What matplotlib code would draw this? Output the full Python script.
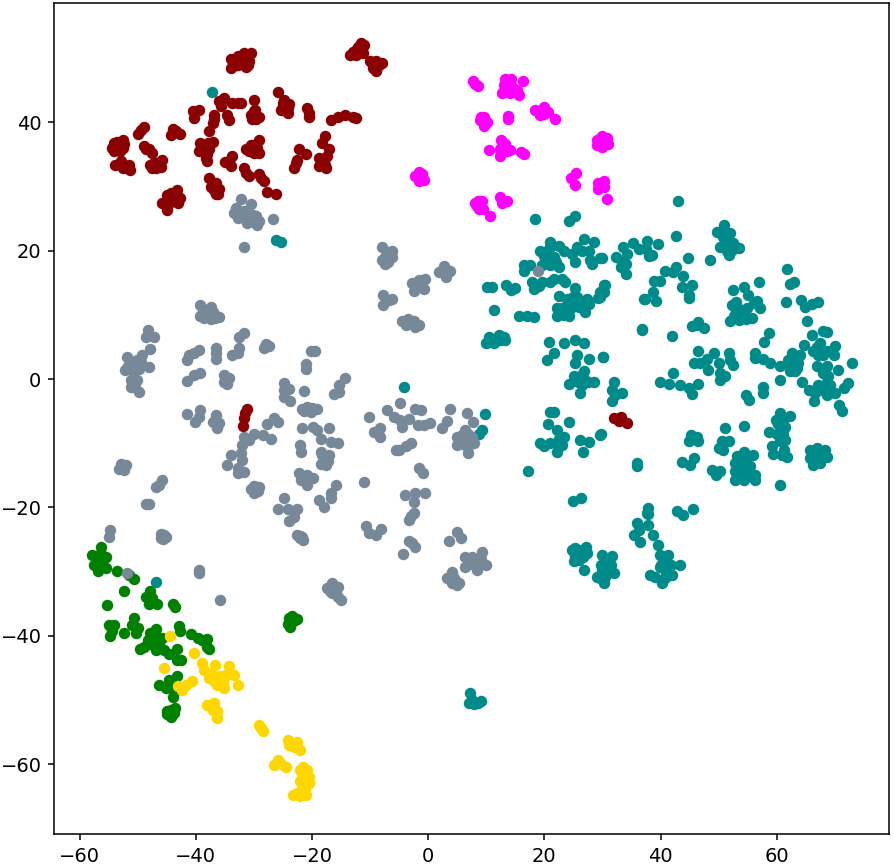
import matplotlib
matplotlib.use('Agg')
import matplotlib.pyplot as plt

# t-SNE embedding, values, one list per class
darkred_pts = [
    (-34,48.5),(-34,49.8),(-32.8,50.3),(-31.7,50.8),(-30.5,50.8),(-31.4,48.7),(-32.3,49.5),(-30.8,49.5),
    (-33,49),(-31.5,49.8),(-31,48.9),(-32.8,48.9),
    (-13,51),(-12,51.7),(-11.5,52.4),(-11,52),(-13.5,50.5),(-12.5,50.5),(-11.2,50.8),(-12.5,51.2),(-11.8,50.9),
    (-10,49.5),(-9,49.5),(-8.5,49),(-9.5,48.5),(-9,48),(-8,49.3),(-9.5,49),
    (-25.8,44.8),(-24.8,43.5),(-24,42.8),(-24.8,42),(-25.4,41.9),(-24.2,42.2),(-25,43),(-24.2,41.5),(-25,42.5),
    (-20.8,42.2),(-20.5,40.9),(-20.6,41.5),
    (-16.8,40.4),(-15.6,40.8),(-14.4,41.2),(-13,40.8),(-12.4,40.7),
    (-30,43.5),(-30,41.7),(-29.1,40.9),(-30.5,41.2),(-29.7,40.6),(-29.8,42),(-30.3,40.6),
    (-32.8,43),(-33.7,43),(-32.2,43),
    (-35.1,43.8),(-36,43.3),(-35.7,42.5),(-34.6,41.2),(-34.3,40.4),(-36.9,41.2),(-37.1,39.9),(-37.7,38.6),(-36.9,40.6),
    (-39.4,42),(-40.4,41.7),(-40.3,40.7),
    (-48.9,39.3),(-49.9,38.2),(-49.4,38.8),
    (-44,39),(-44.2,38.1),(-42.7,38.2),(-43.4,38.6),
    (-52.6,37.3),(-54.1,36.8),(-54.4,36),(-53.5,35.8),(-52.6,36),(-54.1,36.3),(-53.2,36.5),(-53.5,37),(-53,35.5),(-54,35.5),(-52.3,36.6),
    (-48.9,36.3),(-48,35.8),(-47.5,35.2),(-48.6,35.8),
    (-45.8,34.2),(-46.6,33.7),(-47.5,32.9),(-47.8,33.4),(-46,33),(-46.8,32.9),(-47.2,33.7),
    (-52.9,33.9),(-53.9,33.3),(-52.6,32.9),(-51.5,33.4),(-51.3,32.5),
    (-39.2,36.8),(-37.1,36.9),(-38,36.3),(-39.4,35.5),(-38.3,34.4),(-37.7,35.8),(-38.6,35.5),(-38.8,36.2),(-38,35),(-37.9,36.8),(-38,33.9),
    (-33.7,34.7),(-34.9,33.8),(-34,33.2),(-34.3,33.9),
    (-29.1,37.3),(-30.5,36.5),(-31.4,35.8),(-30,35.8),(-29.1,35.2),(-30,35.2),(-30,36.5),(-29.5,36),(-30.8,35.5),
    (-22.2,35.8),(-21.1,35),(-22.5,34.2),(-23.1,32.9),(-22.8,33.7),
    (-17.8,37.8),(-18.2,36.8),(-17.1,35.8),(-18.8,34.5),(-17.4,34.7),(-17.6,32.9),(-18.8,33.2),(-18.2,33.9),(-18,34),(-17.8,33.4),
    (-31.7,32.9),(-30.8,31.6),(-31.4,32.1),
    (-29.1,32),(-28.3,30.8),(-28.7,31.3),
    (-27.7,29.1),(-26.2,28.9),
    (-37.7,31.3),(-37.4,30),(-36,29.6),(-36.6,28.9),(-36.9,29.5),(-36.5,30.5),(-37,29.7),(-36.2,28.9),
    (-43.2,29.5),(-42.7,28.2),(-44.9,28.7),(-45.8,27.4),(-44.9,26.3),(-43.7,27.7),(-44.6,27.4),(-44,28),(-43.5,28.5),(-44.3,29),(-43,27.4),(-45,27),
    (-31.2,-4.6),(-31.7,-6.1),(-31.8,-7.3),(-31.5,-5.3),
    (31.9,-6),(33.1,-5.9),(32.8,-6.6),(34.2,-6.8),
]
magenta_pts = [
    (7.7,46.4),(8.6,45.6),(8.1,46),
    (13.3,46.8),(14.3,46.8),(16.3,46.5),(12.7,44.5),(13.6,45.2),(15.3,45),(15.6,44.2),(14.1,44.5),(13,45.8),(13,44.9),(14.5,45.5),(14,46),
    (13.7,41),(13.7,40.6),
    (18.3,42),(19.3,41.1),(19.9,42.4),(20.7,41.6),(21.9,40.6),(19.6,41.9),(19,41.8),(20,41.3),
    (8.9,40.3),(9.6,40.8),(10.1,40),(9.6,39.5),(9.3,40.3),(9,40.9),
    (29.9,37.8),(30.8,37.6),(29,37.3),(29,36.4),(29.9,36.1),(30.9,36.6),(29.9,37),(30,36.7),(30.4,37.2),(29.5,36.6),
    (10.5,35.7),(12.5,37.2),(13.3,36.7),(12.4,34.8),(14.1,35.7),(12.4,35.9),(15.9,35.4),(16.4,35.1),(13.6,35.6),
    (-1.6,32.2),(-2.2,31.6),(-0.8,31),(-1.5,30.8),(-1,32),(-1.8,31.4),(-1.3,31.5),
    (25.4,32.1),(24.5,31.4),(25.2,30.2),
    (29.3,30.5),(30.3,30.8),(29.3,29.6),(30.2,29.9),(29.8,30.2),
    (30.8,28),
    (8,27.4),(9.3,27.8),(8.7,26.5),(9.5,26.5),(10.7,25.4),(8.4,27),(8.5,27.8),(9,27),
    (12.4,28.4),(13.6,27.8),(12.7,27.4),
]
teal_pts = [
    (-37.2,44.8),(-26.2,21.6),(-25.4,21.4),(-46.9,-31.7),(-4.2,-1.2),(9.7,-5.5),(9.3,-7.9),(8.7,-8.5),
    (18.3,24.9),(25.3,25.4),(24.3,24.6),
    (20.9,21.3),(19.3,19.9),(22.5,20.8),(23.3,20),(20.2,18.8),(21.6,19),(22.5,17.5),(21,17.7),(19.6,17.7),(20.5,20),
    (20.8,18.8),(21.5,18),(21,20.5),(20,19.2),(22,18.2),
    (26.8,21.9),(28.5,21.3),(25.6,20.6),(27.6,20),(26.5,20),(24.8,19.5),(25.3,18.2),(27.9,18.5),(28.2,17.9),(29.6,18.8),
    (16.4,17.7),(17.6,17.7),(16.5,16.9),
    (17.9,15.1),(18.2,14),(19.6,15.1),(21,15.1),(23,15.6),(21.6,15.6),(23.6,15.1),(19,14.5),
    (10.1,14.3),(11,14.3),(13.4,14.6),(14.3,13.8),(15,14.2),(11.3,10.8),
    (15.7,9.8),(17,9.8),(18.2,9.6),
    (25.2,14.2),(30.5,14.7),(29.6,13.6),(29.3,12.7),
    (22.5,13),(23.9,12.5),(25.6,12.8),(27.3,12.5),(27.6,11.7),(25.9,11.2),(22.2,11.1),(23.9,11),(22.2,9.9),(24.2,9.9),(26.9,10.4),(25,11.9),
    (24.5,11.8),(25,12.8),(26.3,11.7),(24.4,10.9),(23,11),(23.3,10),
    (36.8,7.8),(37.3,12.4),
    (33.5,20.6),(35.3,21.2),(37.7,21.5),(34.2,19.5),(36.2,20.3),(37.4,20.3),(32.4,19),(33.4,18.2),(34,18),(33.1,17.4),(34,16.4),
    (38,19.2),(39.5,21),(38.5,19.3),(29.9,18.8),
    (43,27.8),(42.7,22.3),
    (50.9,24),(49.7,22.9),(52,22.7),(50.8,22.2),(50.3,20.6),(51.7,19.3),(53.4,20.4),(52.3,20.1),(51.4,21.1),
    (50.8,23),(51,22),(51.5,20.5),(51.5,19.9),(52.5,21.2),
    (44.7,18.9),(48.5,18.6),
    (40.8,16.9),(42.7,17.5),(42.2,16.7),
    (43.9,16),(45.4,14.7),(43.7,14.4),(44.9,12.7),(44.9,13.1),
    (38.8,15.2),(39.9,15.2),(38.6,13.5),(37.2,12.4),(39.2,12.2),
    (30.2,14.7),(30.2,13.6),(29.6,12.8),
    (56.9,15.1),(61.7,17.1),(62.9,15.1),(62.3,14.8),
    (52.5,13.9),(54.4,14.4),(55.1,13.1),(56.6,12.1),(57.1,11),(52.3,11.5),(53.1,11.3),(54.8,11),(52,9.1),(53.4,9.2),(55.7,9.5),(54.3,10),(52.9,10.5),(56,11.8),
    (53,12),(53.9,10.6),(52.7,9.9),(54.7,9.3),
    (61.6,12),(64.2,12.3),(64.9,11.2),(66,11.7),(67.1,12),(65.2,9),
    (36.8,7.7),(42,6.7),
    (46.5,8.9),(45.4,8.2),(47.4,7.9),(46.2,8.4),
    (58.7,7.2),(57.8,5.7),(56.3,4),(56.3,3.3),(57.7,3.1),(58.9,2.5),(60.6,2.1),
    (62.6,4),(64,3.8),(62.9,2.5),(63.7,2.5),(62.3,1.2),(63.2,1.2),(62,3),(64.6,5.3),(63,3.5),
    (62.8,3.3),(63.5,3),(62.8,1.7),(63.5,1.7),(62.3,2),
    (66,6.9),(68,7.5),(68.6,7.3),(67.5,5.6),(66.3,4.3),(68.6,4.3),(70,5.2),(69.8,3.8),(66.9,5),(67,3.8),(67.5,4.6),(68,3.7),
    (72.9,2.5),(70.6,1.4),
    (66.9,2.1),(68.6,2.1),(68,0.9),(68.6,-0.4),(67.5,-1.2),(69.2,-0.9),(64.4,-0.4),(65.5,-1.7),(66.6,-2.2),(68.6,-2.5),(70,-2.2),(71.5,-1.4),(72.3,-0.6),(66.4,-3.5),
    (68.3,1.5),(68.8,0.5),(67,-0.9),(68,-1.7),
    (70.7,-4),(71.2,-5),
    (60.6,-0.1),(57.7,-1.2),(57.7,-2.2),(54.7,-2.5),(55.2,-3.3),
    (46.4,4.3),(45.7,2.5),(46.8,2.5),(47.9,3.2),(49.2,4),(48.2,1.4),(50,2.5),(51.7,4),(52,3),(52.4,2.2),(50.3,0.9),(51.1,0.4),(50.3,-0.1),
    (42.2,0.9),(39.9,-0.4),(41.4,-0.8),(43.4,-0.9),(44.8,-1.4),(45.4,-2.4),(46.5,-0.7),
    (30.1,3.5),
    (32,-0.4),(31.6,-1.7),(33.3,-2.2),(31.7,-3.5),(32.2,-2.5),
    (60.6,-5.3),(62.2,-5.8),(59.8,-6.4),(61.4,-7.4),(58.7,-8.3),(60,-8.5),(61.4,-9.5),(60.6,-9.7),(59.1,-10.5),(59.4,-11.7),(61.2,-11.1),(61.7,-12.1),(60.8,-11.9),
    (61,-8.5),(60.2,-7),(61,-6.5),(60.8,-8),
    (51.1,-7.7),(54.4,-7.3),
    (45.2,-8.7),(46.2,-9),(44.8,-9.7),(46.5,-9.7),(45.4,-9.2),
    (51.7,-9.6),(50.5,-9.7),(50.1,-10.8),(50.7,-11.1),
    (29.8,-8.6),(36,-13.1),(36,-13.5),
    (43.7,-12.9),(45.8,-12.3),(45,-13.4),
    (48.8,-14.2),(50.3,-14.3),(49.5,-15),
    (54.3,-11.3),(55.9,-11.9),(52.8,-13.1),(54.3,-12.6),(55.4,-13.6),(52.8,-14.4),(56.3,-15),(52.8,-15.7),(54.3,-15.7),(56.3,-15.7),(54.3,-14.2),(53.4,-13.6),
    (54,-13),(53.5,-12.5),(53,-14.7),(54.8,-13.2),(55.2,-14.8),(54,-15),(53.2,-12),
    (60.5,-16.5),
    (66.9,-10.8),(65.7,-11),(68.3,-11),(68.6,-12.1),(65.7,-12.3),(66.9,-12.4),(66.3,-13.4),(67.5,-13.1),(66.9,-11.6),
    (67,-11),(66,-11.7),(67.8,-11.8),(67.4,-12.2),(66.5,-12.9),
    (10.4,6.6),(12.2,6.9),(9.9,5.6),(11.3,5.6),(13.3,6.1),(12.4,6.1),(10.4,5.8),(11,6.3),(11.5,6.2),(13,6.5),
    (20.8,5.7),(21.6,4),(20.5,3),(23.3,5.6),(25.3,6.1),(26.8,5.6),(25.6,3.7),(25.3,2.5),(27.7,3.2),(30,3.5),
    (26.8,1.2),(25.1,0.4),(24.2,-0.7),(26.2,-0.4),(28.5,-0.4),(27,-0.2),(26.1,-2.1),(26.5,0.6),(25.8,-0.5),(27.5,-0.5),(26.5,-1),
    (20.9,-5.1),(21.7,-5.2),(20.6,-7),(24.3,-6.7),(22.2,-7.9),(23.3,-9),(19.3,-9.9),(21,-10),(23,-10.3),(22.2,-11.3),(19.9,-10.5),(22.5,-9.3),(22.2,-10),
    (26.2,-9.5),(27.6,-9.8),(26.6,-11.4),(29.6,-8.7),(17.1,-14.4),
    (24.9,-19),(26.3,-18.6),
    (25.3,-26.4),(27.1,-26.1),(24.7,-26.7),(25.9,-28.2),(25.1,-28.4),(26.8,-29.7),(27.4,-27.1),(26.2,-27.1),
    (25.6,-27.5),(26.5,-26.6),(25.3,-27.5),(26,-27),(26.7,-27.8),
    (29.9,-27.4),(31.7,-27.5),(29.7,-29),(31.4,-29),(32,-30.3),(29.1,-30.8),(30.5,-30.8),(30.2,-31.8),(29.9,-29.8),
    (30.5,-28),(30.8,-29.6),(30.5,-30.3),(29.5,-31),
    (35.4,-24.3),(36,-22.5),(36.3,-23.5),
    (37.9,-21),(37.9,-22.7),(38.6,-24.3),(36.5,-25.4),(39.6,-25.9),(39.9,-27.4),(41.3,-27.4),(39.9,-29.3),(41.7,-29),(43.4,-29),(42,-30.5),(39.1,-30.8),(40.3,-31.8),(38.2,-30.5),(40.9,-30),
    (40,-29),(41,-28.3),(40.5,-27.7),(40.8,-31),
    (37.8,-20.1),(37.6,-20.9),
    (42.9,-20.6),(45.6,-20.3),(43.9,-21.2),
    (7.2,-49),(7.5,-50),(7,-50.5),(8.5,-50.5),(9,-50.2),(7.8,-50.7),
]
gray_pts = [
    (-32.3,28),(-33.1,26.7),(-33.4,25.8),(-32.8,25.1),(-30.5,27.2),(-31.7,26.2),(-29.7,25.4),(-31.1,24.3),(-29.4,24),(-30.2,24.6),(-29.1,24.6),
    (-30.7,25),(-30,24.5),(-30.2,25.6),(-31,25.5),(-32.5,26),
    (-26.7,25),(-31.7,20.6),
    (-7.9,20.5),(-6.2,19.9),(-7.1,19.8),(-7.9,18.5),(-7.4,18),(-6.2,19),(-6.8,19),(-7,18.3),(-7.5,19),
    (-7.7,13.1),(-6.2,12.5),(-7.7,11.5),(-6.8,12.3),
    (-2.8,14.9),(-1.6,15.4),(-0.5,15.6),(-2.5,13.7),(-0.8,14),(-1.6,14.6),
    (2.7,17.6),(3.8,16.9),(1.8,16.7),(3,15.9),(2.7,16.7),
    (-4.5,9),(-3.4,9.4),(-1.6,8.4),(-3.9,8.4),(-2.5,9),(-2.2,8.1),
    (18.9,16.8),
    (-39.2,11.5),(-37.4,11.2),(-38.9,10.2),(-37.4,9.4),(-36,9.6),(-38.3,10.7),(-36.9,10.2),(-39.2,9.9),
    (-38,10),(-38.5,9.5),(-37,10.5),(-37.8,9.6),(-36.7,9.5),
    (-48.2,7.6),(-48.6,6.6),(-47.2,6.5),
    (-31.7,7.1),(-32.6,6.5),(-32.6,4.8),(-33.7,3.7),(-32.8,4),
    (-28,5.5),(-28.3,4.8),(-27.4,5.2),
    (-39.4,4.6),(-41.2,3.7),(-41.5,2.9),(-40.3,4),
    (-36.6,4.8),(-36.6,3.2),(-36.6,4),
    (-39.2,0.9),(-40.3,0.6),(-41.5,-0.3),
    (-35.1,0.6),(-34.3,0.1),(-35.1,-0.4),(-34.6,-0.7),
    (-47.8,4.7),(-49.2,3.7),(-51.8,3.5),(-50.6,2.7),(-48,1.8),(-52.1,1.4),(-49.8,1.6),(-51.2,-0.2),(-50.1,-0.2),(-51.2,-1.2),(-49.7,-2),(-50.4,-1.2),
    (-51,2.5),(-50.2,3),(-51.6,2),(-50.8,1.2),(-49.5,2.6),(-50.8,-0.9),
    (-20.2,4.4),(-19.4,4.4),(-21.1,2.4),(-21,1.5),
    (-14.4,0.1),(-15.3,-1),(-16.2,-2.3),(-15.3,-2),
    (-24.8,-0.6),(-24,-1.5),(-24.8,-2.8),(-23.8,-3.4),(-24.8,-1.7),
    (-21.3,-1.8),
    (-21.7,-4.6),(-20.8,-4.3),(-19.1,-4.6),(-20.2,-5.1),(-21.4,-5),(-20.8,-4.6),(-20,-4.5),
    (-41.5,-5.4),(-39.2,-4.8),(-40.2,-6.7),(-39.4,-5.9),
    (-36.6,-5.6),(-37.1,-6.7),(-36,-6.9),(-36.3,-7.7),
    (-26.5,-6),(-25.8,-6.7),(-27.8,-7),(-28.5,-8.7),(-27.1,-9.4),(-30,-8.5),(-31.7,-9),(-30.8,-9.5),(-32,-10.3),(-32.3,-11.6),(-34,-11.9),(-32,-12.6),(-34.6,-13.4),(-32.8,-14.7),(-31.7,-14.5),(-32.8,-13.9),
    (-30,-17.1),(-29.1,-16.8),(-30,-17.8),(-30.5,-17.1),(-29.5,-17.3),(-30,-16.6),(-29.3,-17.5),
    (-21.7,-7.7),(-19.9,-7.4),(-19.1,-8),(-17.1,-7.7),(-18.5,-9.3),(-16.8,-9.8),(-15.6,-9.9),
    (-22.1,-10.3),(-21.9,-11.4),
    (-18.5,-11.3),(-17.1,-11.9),(-18.5,-13.2),(-17.6,-13.4),(-17.9,-12.1),(-18,-12.5),(-18.2,-11.9),(-17.3,-12.8),
    (-22.2,-14.7),(-20.8,-15),(-19.9,-15.5),(-21.9,-15.8),(-20.8,-16.5),
    (-15.9,-16.5),(-16.8,-17.8),(-18.8,-18.9),(-17.9,-19.9),(-16.8,-18.6),
    (-24.8,-18.6),(-25.8,-20.2),(-24.2,-20.2),(-22.5,-20.2),(-24,-22.2),(-23.1,-21.5),
    (-22.1,-24.7),(-21.7,-24.6),(-22.5,-24.3),(-21.5,-25.1),(-22,-24.5),
    (-52.9,-13.2),(-53.2,-14),(-52,-13.4),(-52.6,-13.7),(-52.4,-14.2),
    (-45.8,-15.8),(-46.9,-16.9),(-46.3,-16.5),
    (-48.6,-19.5),(-48,-19.5),
    (-54.8,-23.5),(-54.9,-24.6),
    (-46,-24.1),(-45.2,-24.6),(-46,-24.8),(-45.5,-24.3),(-45.6,-25),
    (-4.8,-3.8),(-7.1,-4.9),(-10.2,-5.9),(-5.9,-5.9),(-4.5,-7.4),(-3.3,-6.2),(-4.8,-6.4),
    (-2.2,-4.6),(-1.2,-4.8),(-1.8,-7.2),(-0.8,-7.2),(0.3,-6.8),
    (3.7,-4.7),(3.3,-6.6),(2.4,-7.7),
    (6.6,-5.3),(7.7,-6.7),(6.4,-7.9),(5,-9),(7.6,-9),(6.7,-9),(5,-10.3),(6.4,-10.3),(7.8,-10),(6.8,-11.6),(5.8,-8.7),
    (6,-9),(6.8,-8.5),(6,-10),(7,-10.3),(5.6,-9.6),(7,-9.7),
    (-8.3,-7.7),(-9.4,-8.2),(-8.3,-9),
    (-3,-10),(-5.1,-11),(-5.6,-11.1),(-3.9,-10.5),
    (-1.6,-13.9),(-0.9,-14.6),
    (-11,-16),
    (-2.2,-17.8),(-4,-18.1),(-0.5,-17.8),(-2.4,-19.1),
    (-2.5,-20.8),(-3.3,-22),(-3,-21.4),
    (-10.7,-22.9),(-10.2,-24),(-8.9,-24.3),(-8.1,-23.4),
    (-3.3,-25.3),(-2.2,-26.2),(-2.8,-25.6),
    (-4.4,-27.3),
    (5,-23.9),(5.7,-24.8),(3.5,-25.2),
    (9.3,-26.9),(6.4,-27.8),(8.4,-28.2),(9.9,-29),(6.4,-29.3),(8.4,-29.7),(7.6,-28.9),(7.4,-28.5),(8,-29),(9,-28),(7.5,-27.8),
    (4.1,-30),(3.3,-31),(5,-32.1),(4.1,-31.8),(5.3,-31.8),(4.5,-31),(4,-30.9),
    (-16.5,-31.8),(-17.4,-32.6),(-15.6,-32.4),(-16.5,-33.4),(-15,-34.4),(-15.6,-33.9),(-16.3,-32.7),(-15.8,-33.3),(-16.9,-33),
    (-39.4,-29.8),(-39.5,-30.2),(-35.8,-34.4),(-51.9,-30.2),
]
green_pts = [
    (-56.3,-26.1),(-57.8,-27.4),(-56.7,-27.4),(-55.5,-27.7),(-57.5,-29),(-56.1,-28.5),(-56.9,-29.9),(-55.5,-29.5),(-56.9,-28.2),
    (-56.5,-28.5),(-57,-28.8),(-56,-27.5),
    (-53.5,-29.9),(-50.6,-31.2),(-51.5,-30.5),(-52.4,-33),(-55.2,-35.2),
    (-47.8,-33.1),(-48.6,-34),(-47.5,-34.2),(-46.7,-35),(-48.1,-35),(-47.8,-34.5),
    (-43.9,-35.1),(-43.6,-35.6),
    (-50.6,-37.3),(-54.9,-38.3),(-54.1,-38.3),(-54.4,-39.2),(-54.8,-40.1),(-50.9,-38.3),(-50,-38.8),(-52.4,-39.5),(-50.3,-39.6),
    (-42.9,-38.5),(-42.8,-39.2),
    (-46.9,-39),(-47.8,-39.6),(-45.8,-40.4),(-48.3,-40.7),(-47.2,-40.9),(-48.9,-41.7),(-49.6,-42),(-46.9,-42.2),(-45.5,-42.2),(-44.6,-42.8),(-46.3,-41.4),
    (-47.5,-40),(-46.5,-40.5),(-47,-40),(-47.3,-41.5),(-46.5,-41.5),
    (-40.9,-39.8),(-39.7,-40.4),(-38.1,-40.5),(-38.9,-40.7),(-38,-41.7),(-37.7,-42),
    (-43.3,-42.1),(-43.3,-43.8),(-42.5,-43.8),
    (-43.2,-46.3),(-44.6,-46.9),(-46.3,-47.7),(-45.2,-48.2),(-44.3,-47.7),(-43.9,-49.5),(-43.8,-48.7),(-43.5,-51.3),(-44.9,-51.8),(-44.3,-52.6),(-44.3,-51.6),(-43.7,-52),
    (-44,-51.7),(-45,-52.2),(-44.2,-52),
    (-23.4,-37),(-22.5,-37.4),(-24,-37.3),(-24.2,-38.1),(-23.7,-38.7),(-23.4,-37.8),(-23.6,-37.5),(-23,-37.5),
]
gold_pts = [
    (-44.4,-40),(-45.5,-45.1),(-40.3,-42.7),(-38.9,-44.3),(-38.6,-45.3),(-36.7,-44.6),(-34.2,-44.7),(-34.6,-45.9),(-33.4,-46.1),(-32.7,-47.7),
    (-37.7,-46.6),(-36.3,-46.4),(-36.3,-47.7),(-35.1,-48.2),(-35.1,-46.6),(-36.9,-47.1),
    (-36.5,-47),(-36,-47.3),(-35.8,-46.3),(-35.3,-47.3),(-37.3,-46),
    (-40.7,-47),(-41.7,-47.7),(-43,-47.9),(-42.3,-48.4),
    (-38,-50.8),(-36.9,-50.5),(-36.3,-51.8),(-36.3,-52.8),(-37.1,-51.6),
    (-29.1,-53.9),(-28.4,-54.9),(-28.8,-54.4),
    (-24.1,-56.3),(-22.5,-56.5),(-22.1,-57.8),(-23.1,-57.3),(-23,-56.9),(-24,-57),
    (-25.8,-59.4),(-26.5,-60.1),(-24.5,-60.5),(-25.4,-60),
    (-22,-60.9),(-20.8,-60.9),(-20.5,-62),(-22,-62.7),(-20.5,-63),(-21.4,-63.5),(-23.2,-64.8),(-22,-65),(-21,-64.8),(-21.4,-62),
    (-21.5,-60.5),(-21,-61.5),(-21.5,-62.7),(-20.8,-62.5),(-21.8,-61.5),(-21.8,-63.7),(-21.2,-64),(-22.5,-64.5),
]

xticks = [-60, -40, -20, 0, 20, 40, 60]
yticks = [-60, -40, -20, 0, 20, 40]

# drawn in this order so the overlaps come out like the original
classes = [
    (teal_pts, 'darkcyan'),
    (green_pts, 'green'),
    (gray_pts, 'lightslategray'),
    (darkred_pts, 'darkred'),
    (magenta_pts, 'magenta'),
    (gold_pts, 'gold'),
]

plt.rcParams['font.size'] = 14
fig = plt.figure(figsize=(8.95, 8.65), dpi=100)
ax = fig.add_axes([54/895, 1 - 834/865, (889-54)/895, (834-3)/865])
for pts, col in classes:
    xs = [p[0] for p in pts]
    ys = [p[1] for p in pts]
    ax.scatter(xs, ys, s=68, c=col, linewidths=0)

ax.set_xlim(-64.4, 79.3)
ax.set_ylim(-70.9, 58.6)
ax.set_xticks(xticks)
ax.set_yticks(yticks)
ax.tick_params(length=4.5, width=1.1, pad=4.5)
for sp in ax.spines.values():
    sp.set_linewidth(1.1)

plt.savefig('out.png', dpi=100)
plt.close()
